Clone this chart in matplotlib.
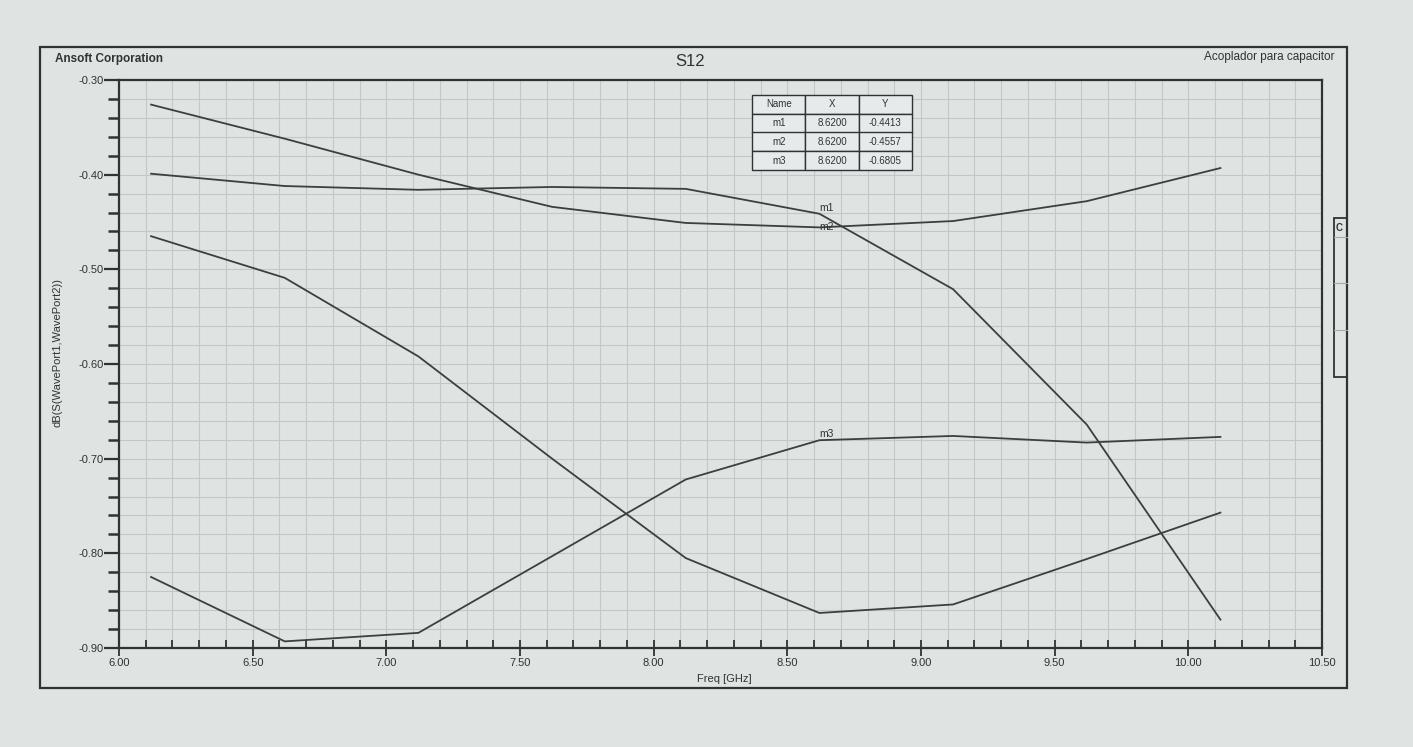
import matplotlib.pyplot as plt
from matplotlib.patches import Rectangle
from matplotlib.ticker import MultipleLocator, FormatStrFormatter

plt.rcParams['font.family'] = ['Liberation Sans', 'DejaVu Sans']
plt.rcParams['axes.unicode_minus'] = False

# datos (Freq en GHz, dB)
freq = [6.12, 6.62, 7.12, 7.62, 8.12, 8.62, 9.12, 9.62, 10.12]
curva_m2 = [-0.326, -0.362, -0.400, -0.434, -0.451, -0.4557, -0.449, -0.428, -0.393]
curva_m1 = [-0.399, -0.412, -0.416, -0.413, -0.415, -0.4413, -0.521, -0.664, -0.870]
curva_c = [-0.465, -0.509, -0.592, -0.700, -0.805, -0.863, -0.854, -0.806, -0.757]
curva_m3 = [-0.825, -0.893, -0.884, -0.803, -0.722, -0.6805, -0.676, -0.683, -0.677]

# marcadores
marcadores = ['m1', 'm2', 'm3']
marc_x = [8.62, 8.62, 8.62]
marc_y = [-0.4413, -0.4557, -0.6805]

papel = '#dfe4e3'
tinta = '#2f3333'
W, H = 1413, 747

fig = plt.figure(figsize=(W / 100, H / 100), dpi=100, facecolor=papel)

# marco exterior
fig.patches.append(Rectangle((40 / W, 1 - 688 / H), (1347 - 40) / W, (688 - 47) / H,
                             transform=fig.transFigure, fill=False, lw=1.6, ec=tinta))

ax = fig.add_axes([119 / W, 1 - 648 / H, (1322 - 119) / W, (648 - 80) / H])
ax.set_facecolor(papel)

for serie in [curva_m2, curva_m1, curva_c, curva_m3]:
    ax.plot(freq, serie, color='#3b3f3f', lw=1.3, zorder=3)

ax.set_xlim(6.0, 10.5)
ax.set_ylim(-0.90, -0.30)
ax.xaxis.set_major_locator(MultipleLocator(0.5))
ax.xaxis.set_minor_locator(MultipleLocator(0.1))
ax.yaxis.set_major_locator(MultipleLocator(0.1))
ax.yaxis.set_minor_locator(MultipleLocator(0.02))
ax.xaxis.set_major_formatter(FormatStrFormatter('%.2f'))
ax.yaxis.set_major_formatter(FormatStrFormatter('%.2f'))

ax.grid(which='both', color='#c2c7c7', lw=0.8)
ax.set_axisbelow(True)
for s in ax.spines.values():
    s.set_color(tinta)
    s.set_linewidth(1.6)

ax.tick_params(axis='x', which='major', direction='inout', length=12, width=1.3,
               colors=tinta, labelsize=8, pad=1)
ax.tick_params(axis='x', which='minor', direction='in', length=6, width=1.3, colors=tinta)
ax.tick_params(axis='y', which='major', direction='out', length=11, width=1.6,
               colors=tinta, labelsize=8, pad=0)
ax.tick_params(axis='y', which='minor', direction='out', length=8, width=1.8, colors=tinta)

ax.set_xlabel('Freq [GHz]', fontsize=8, color=tinta)
ax.xaxis.set_label_coords((724 - 119) / (1322 - 119), -0.045)
ax.set_ylabel('dB(S(WavePort1,WavePort2))', fontsize=8, color=tinta)
ax.yaxis.set_label_coords(-(119 - 63) / (1322 - 119), 0.52)

# etiquetas de marcadores
ax.text(marc_x[0], marc_y[0] + 0.001, marcadores[0], fontsize=7.5, color=tinta, ha='left', va='bottom')
ax.text(marc_x[1], marc_y[1], marcadores[1], fontsize=7.5, color=tinta, ha='left', va='center')
ax.text(marc_x[2], marc_y[2] + 0.001, marcadores[2], fontsize=7.5, color=tinta, ha='left', va='bottom')

# tabla de marcadores
filas = [[m, '%.4f' % x, '%.4f' % y] for m, x, y in zip(marcadores, marc_x, marc_y)]
tabla = ax.table(cellText=filas, colLabels=['Name', 'X', 'Y'], cellLoc='center',
                 bbox=[(752 - 119) / (1322 - 119), (648 - 170) / (648 - 80),
                       (912 - 752) / (1322 - 119), (170 - 95) / (648 - 80)])
tabla.auto_set_font_size(False)
tabla.set_fontsize(7)
tabla.set_zorder(10)
for celda in tabla.get_celld().values():
    celda.set_facecolor('#e6eaea')
    celda.set_edgecolor(tinta)
    celda.set_linewidth(1.0)
    celda.get_text().set_color(tinta)

# textos de cabecera
fig.text(55 / W, 1 - 59 / H, 'Ansoft Corporation', fontsize=8.5, fontweight='bold',
         color=tinta, ha='left', va='center')
fig.text(690 / W, 1 - 62 / H, 'S12', fontsize=12, color=tinta, ha='center', va='center')
fig.text(1334 / W, 1 - 57 / H, 'Acoplador para capacitor', fontsize=8.5, color=tinta,
         ha='right', va='center')

# caja de leyenda lateral
fig.patches.append(Rectangle((1334 / W, 1 - 377 / H), 13 / W, (377 - 218) / H,
                             transform=fig.transFigure, fill=False, lw=1.3, ec=tinta))
for yy in [237, 283, 330]:
    fig.lines.append(plt.Line2D([1334 / W, 1347 / W], [1 - yy / H, 1 - yy / H],
                                transform=fig.transFigure, color='#a5abab', lw=0.8))
fig.text(1336 / W, 1 - 228 / H, 'C', fontsize=7, fontweight='bold', color=tinta,
         ha='left', va='center')

plt.savefig('out.png', dpi=100, facecolor=papel)
